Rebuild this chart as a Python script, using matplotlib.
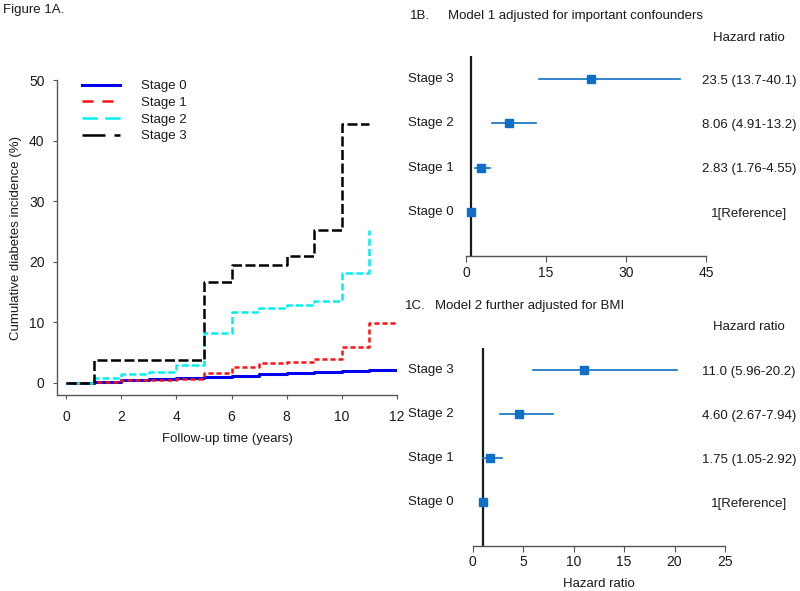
import matplotlib
matplotlib.use("Agg")
import matplotlib.pyplot as plt
from matplotlib.lines import Line2D
import matplotlib.transforms as mtransforms

plt.rcParams['font.family'] = ['Liberation Sans', 'DejaVu Sans']

# ---------------- data ----------------
stage_labels = ["Stage 0", "Stage 1", "Stage 2", "Stage 3"]

t_stage0 = [0, 1, 2, 3, 4, 5, 6, 7, 8, 9, 10, 11, 12]
y_stage0 = [0, 0.1, 0.4, 0.6, 0.8, 1.0, 1.2, 1.5, 1.7, 1.8, 1.9, 2.2, 2.2]

t_stage1 = [0, 1, 2, 4, 5, 6, 7, 8, 9, 10, 11, 12]
y_stage1 = [0, 0.1, 0.55, 0.6, 1.6, 2.6, 3.3, 3.4, 4.0, 6.0, 9.9, 9.9]

t_stage2 = [0, 1, 2, 3, 4, 5, 6, 7, 8, 9, 10, 11]
y_stage2 = [0, 0.8, 1.4, 1.8, 3.0, 8.3, 11.7, 12.4, 12.8, 13.5, 18.2, 25.2]

t_stage3 = [0, 1, 5, 6, 8, 9, 10, 11]
y_stage3 = [0, 3.7, 16.7, 19.5, 21.0, 25.2, 42.8, 42.8]

# Forest B (Model 1)
hr_m1 = [1.0, 2.83, 8.06, 23.5]
lo_m1 = [1.0, 1.76, 4.91, 13.7]
hi_m1 = [1.0, 4.55, 13.2, 40.1]
txt_m1 = ["1[Reference]", "2.83 (1.76-4.55)", "8.06 (4.91-13.2)", "23.5 (13.7-40.1)"]

# Forest C (Model 2)
hr_m2 = [1.0, 1.75, 4.60, 11.0]
lo_m2 = [1.0, 1.05, 2.67, 5.96]
hi_m2 = [1.0, 2.92, 7.94, 20.2]
txt_m2 = ["1[Reference]", "1.75 (1.05-2.92)", "4.60 (2.67-7.94)", "11.0 (5.96-20.2)"]

km_xticks = [0, 2, 4, 6, 8, 10, 12]
km_yticks = [0, 10, 20, 30, 40, 50]
m1_xticks = [0, 15, 30, 45]
m2_xticks = [0, 5, 10, 15, 20, 25]

# ---------------- figure ----------------
W, H = 800, 591
fig = plt.figure(figsize=(W / 100, H / 100), dpi=100)
FS = 9.5
TXT = '#1a1a1a'
SP = '#555555'


def fx(px):
    return px / W


def fy(py):
    return 1 - py / H


# ---- Panel A ----
axA = fig.add_axes([fx(57), fy(395), fx(397) - fx(57), fy(80) - fy(395)])
lw = 1.8
axA.plot(t_stage0, y_stage0, drawstyle='steps-post', color='#0000ee', lw=2.2,
         solid_capstyle='butt')
axA.plot(t_stage1, y_stage1, drawstyle='steps-post', color='#ff1010', lw=lw,
         dashes=(2.0, 1.2))
axA.plot(t_stage2, y_stage2, drawstyle='steps-post', color='#00f0f0', lw=lw,
         dashes=(2.8, 1.3))
axA.plot(t_stage3, y_stage3, drawstyle='steps-post', color='#000000', lw=lw,
         dashes=(4.0, 1.4))
axA.set_xlim(-0.33, 12)
axA.set_ylim(-2, 50)
axA.set_xticks(km_xticks)
axA.set_yticks(km_yticks)
for s in ['top', 'right']:
    axA.spines[s].set_visible(False)
for s in ['left', 'bottom']:
    axA.spines[s].set_color(SP)
    axA.spines[s].set_linewidth(1.0)
axA.tick_params(axis='both', direction='out', length=3, color=SP,
                labelsize=10, labelcolor=TXT)
axA.tick_params(axis='x', pad=8)
axA.tick_params(axis='y', pad=6)
axA.set_xlabel("Follow-up time (years)", fontsize=FS, color=TXT, labelpad=6)
axA.set_ylabel("Cumulative diabetes incidence (%)", fontsize=FS, color=TXT,
               labelpad=5)

handles = [
    Line2D([], [], color='#0000ee', lw=2.2),
    Line2D([], [], color='#ff1010', lw=lw, dashes=(4.4, 3.6)),
    Line2D([], [], color='#00f0f0', lw=lw, dashes=(6.2, 2.9)),
    Line2D([], [], color='#000000', lw=lw, dashes=(9.2, 3.6)),
]
leg = fig.legend(handles, stage_labels, loc='upper left',
                 bbox_to_anchor=(fx(82), fy(80)), bbox_transform=fig.transFigure,
                 frameon=False, fontsize=FS, borderpad=0, borderaxespad=0,
                 handlelength=2.9, handletextpad=1.6, labelspacing=0.34)
for t in leg.get_texts():
    t.set_color(TXT)

fig.text(fx(3), fy(10), "Figure 1A.", fontsize=FS, color=TXT, ha='left', va='center')

# ---- Forest panels ----
BLUE = '#0f6fc6'


def forest(ax, hr, lo, hi, txt, xlim, xticks, ytop):
    ys = [1, 2, 3, 4]
    for y, h, l, u in zip(ys, hr, lo, hi):
        ax.plot([l, u], [y, y], color=BLUE, lw=1.2, zorder=2)
        ax.plot([h], [y], marker='s', color=BLUE, markersize=5.8, zorder=3,
                linestyle='none')
    ax.axvline(1, ymin=0, ymax=1, color='#1a1a1a', lw=1.6, zorder=1)
    ax.set_xlim(*xlim)
    ax.set_ylim(0, ytop)
    ax.set_xticks(xticks)
    ax.set_yticks([])
    for s in ['top', 'right', 'left']:
        ax.spines[s].set_visible(False)
    ax.spines['bottom'].set_color(SP)
    ax.spines['bottom'].set_linewidth(1.0)
    ax.tick_params(axis='x', direction='out', length=4, color=SP, labelsize=10,
                   labelcolor=TXT, pad=3)
    tr = mtransforms.blended_transform_factory(fig.transFigure, ax.transData)
    for y, lab, t in zip(ys, stage_labels, txt):
        ax.text(fx(408), y, lab, transform=tr, fontsize=FS, color=TXT,
                ha='left', va='center')
        ax.text(fx(749), y - 0.04, t, transform=tr, fontsize=FS, color=TXT,
                ha='center', va='center')


axB = fig.add_axes([fx(466), fy(256), fx(706) - fx(466), fy(56) - fy(256)])
forest(axB, hr_m1, lo_m1, hi_m1, txt_m1, (0, 45), m1_xticks, 4.52)
fig.text(fx(410), fy(16), "1B.", fontsize=FS, color=TXT, ha='left', va='center')
fig.text(fx(448), fy(16), "Model 1 adjusted for important confounders",
         fontsize=FS, color=TXT, ha='left', va='center')
fig.text(fx(749), fy(38), "Hazard ratio", fontsize=FS, color=TXT,
         ha='center', va='center')

axC = fig.add_axes([fx(472.7), fy(545.7), fx(725) - fx(472.7), fy(348) - fy(545.7)])
forest(axC, hr_m2, lo_m2, hi_m2, txt_m2, (0, 25), m2_xticks, 4.5)
axC.set_xlabel("Hazard ratio", fontsize=FS, color=TXT, labelpad=6)
fig.text(fx(405), fy(306), "1C.", fontsize=FS, color=TXT, ha='left', va='center')
fig.text(fx(435), fy(306), "Model 2 further adjusted for BMI",
         fontsize=FS, color=TXT, ha='left', va='center')
fig.text(fx(749), fy(327), "Hazard ratio", fontsize=FS, color=TXT,
         ha='center', va='center')

fig.savefig("out.png", dpi=100)
